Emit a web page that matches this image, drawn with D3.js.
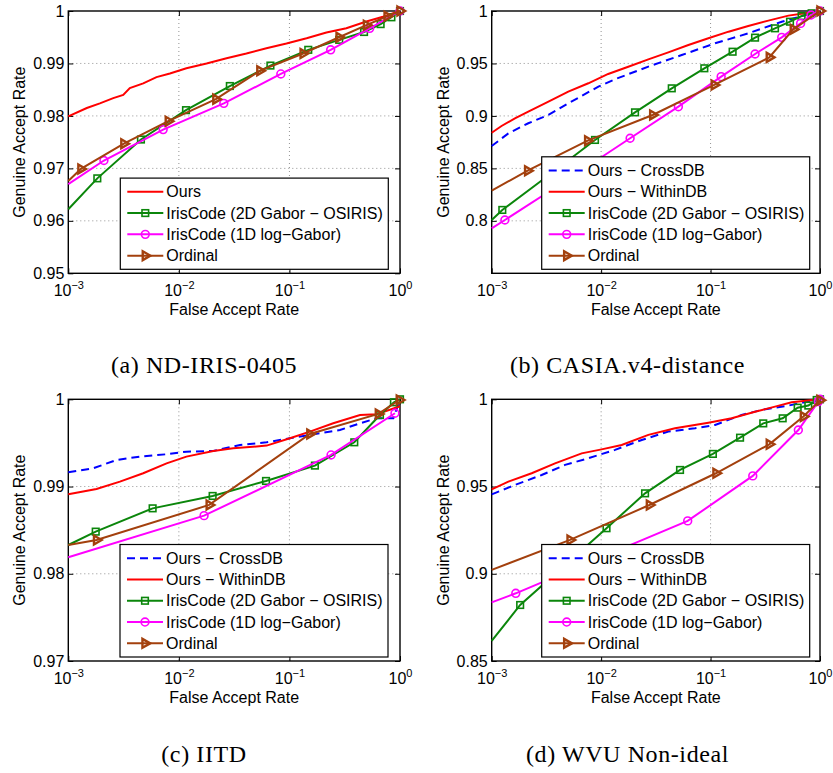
<!DOCTYPE html>
<html>
<head>
<meta charset="utf-8">
<script src="https://cdn.jsdelivr.net/npm/d3@7"></script>
<style>
    body { margin: 0; background: #fff; }
    svg text { font-family: "Liberation Sans", Arial, Helvetica, sans-serif; }
</style>
</head>
<body>
<div class="usable"></div>
<script>
// ---------- data: [FAR, GAR] ----------

// x axis (same for all four panels)
const xTicks = [1e-3, 1e-2, 1e-1, 1];
const xTickExp = ["\u22123", "\u22122", "\u22121", "0"];

// (a) ND-IRIS-0405
const ndOurs = [[1e-3, .9799], [1.47e-3, .9815], [1.93e-3, .9824], [2.55e-3, .9834], [3.14e-3, .984],
    [3.6e-3, .9853], [4.76e-3, .9862], [6.28e-3, .9874], [8.3e-3, .9881], [1.17e-2, .9891], [1.78e-2, .99],
    [2.7e-2, .991], [4.08e-2, .9919], [6.19e-2, .9929], [9.4e-2, .9938], [.143, .9948], [.216, .9959],
    [.327, .9967], [.497, .998], [.701, .9989], [1, 1]];
const ndGabor2D = [[1e-3, .9622], [1.83e-3, .9681], [4.54e-3, .9755], [1.16e-2, .9811], [2.89e-2, .9857],
    [6.73e-2, .9896], [.148, .9926], [.282, .9945], [.473, .996], [.668, .9975], [.836, .9988], [1, 1]];
const ndLogGabor = [[1e-3, .967], [2.1e-3, .9715], [7.21e-3, .9774], [2.55e-2, .9824], [8.36e-2, .988],
    [.236, .9926], [.532, .9967], [1, 1]];
const ndOrdinal = [[1e-3, .9676], [1.3e-3, .9699], [3.18e-3, .9747], [8.02e-3, .979], [2.16e-2, .9832],
    [5.4e-2, .9886], [.133, .9919], [.281, .995], [.497, .9973], [.764, .999], [1, 1]];

// (b) CASIA.v4-distance
const casiaCross = [[1e-3, .8713], [1.42e-3, .8834], [2.16e-3, .893], [3.3e-3, .9009], [5.01e-3, .912],
    [9.44e-3, .9279], [1.34e-2, .935], [2.7e-2, .947], [5.45e-2, .958], [.11, .9692], [.221, .9787],
    [.447, .9898], [1, 1]];
const casiaWithin = [[1e-3, .884], [1.23e-3, .8904], [1.63e-3, .8977], [2.16e-3, .9041], [3.3e-3, .9136],
    [5.01e-3, .9231], [7.64e-3, .9311], [1.16e-2, .94], [1.77e-2, .9469], [2.7e-2, .9539], [4.11e-2, .9606],
    [6.27e-2, .9676], [9.55e-2, .974], [.146, .9803], [.221, .9857], [.337, .9908], [.514, .9956],
    [.729, .9978], [1, 1]];
const casiaGabor2D = [[1e-3, .8008], [1.25e-3, .8104], [3.18e-3, .842], [8.79e-3, .8771], [2.04e-2, .9034],
    [4.42e-2, .9263], [8.77e-2, .9454], [.159, .9612], [.255, .9746], [.388, .9835], [.532, .9898],
    [.679, .9952], [.839, .9978], [1, 1]];
const casiaLogGabor = [[1e-3, .7929], [1.32e-3, .8008], [4.95e-3, .8394], [1.84e-2, .8787], [5.08e-2, .9088],
    [.125, .9374], [.255, .959], [.447, .9749], [.665, .9882], [.828, .9962], [1, 1]];
const casiaOrdinal = [[1e-3, .8288], [2.13e-3, .8478], [7.53e-3, .8764], [2.96e-2, .9009], [.108, .9295],
    [.344, .9558], [.57, .9825], [1, 1]];

// (c) IITD
const iitdCross = [[1e-3, .99163], [1.68e-3, .99209], [2.74e-3, .99305], [4.45e-3, .99343], [7.74e-3, .9937],
    [1.17e-2, .994], [2.05e-2, .99408], [3.57e-2, .99477], [6.22e-2, .99507], [.101, .99553], [.166, .99599],
    [.286, .99648], [.435, .99725], [.615, .99782], [.871, .99782], [1, 1]];
const iitdWithin = [[1e-3, .98911], [1.8e-3, .98972], [2.93e-3, .99056], [4.76e-3, .99152], [7.74e-3, .99266],
    [1.17e-2, .99343], [2.05e-2, .99408], [3.1e-2, .99438], [6.22e-2, .99469], [.101, .99553], [.153, .99629],
    [.249, .99725], [.435, .9982], [.615, .99828], [1, .9992]];
const iitdGabor2D = [[1e-3, .9833], [1.77e-3, .98483], [5.79e-3, .9875], [2.02e-2, .98892], [6.14e-2, .99064],
    [.17, .9924], [.386, .99507], [.659, .9982], [.881, .99966], [1, 1]];
const iitdLogGabor = [[1e-3, .98189], [1.69e-2, .98666], [.238, .99362], [.9, .9984]];
const iitdOrdinal = [[1e-3, .9833], [1.8e-3, .98387], [1.88e-2, .98789], [.153, .99603], [.637, .99832],
    [.986, .99992]];

// (d) WVU Non-ideal
const wvuCross = [[1e-3, .9455], [1.63e-3, .9509], [2.86e-3, .9566], [4.68e-3, .9624], [7.64e-3, .9662],
    [1.34e-2, .971], [2.35e-2, .9767], [4.11e-2, .9815], [7.21e-2, .9834], [.11, .9853], [.192, .991],
    [.293, .9939], [.514, .9964], [1, 1]];
const wvuWithin = [[1e-3, .9484], [1.42e-3, .9528], [2.32e-3, .9576], [3.79e-3, .9633], [6.64e-3, .969],
    [1.01e-2, .9713], [1.54e-2, .9738], [2.7e-2, .9796], [4.73e-2, .9834], [9.55e-2, .9866], [.156, .9891],
    [.255, .9929], [.388, .9958], [.551, .9983], [1, 1]];
const wvuGabor2D = [[1e-3, .8615], [1.82e-3, .8821], [5.01e-3, .9066], [1.12e-2, .9261], [2.52e-2, .9461],
    [5.26e-2, .9595], [.105, .9687], [.186, .978], [.303, .9862], [.456, .9891], [.625, .9952],
    [.782, .9964], [.933, .9996], [1, 1]];
const wvuLogGabor = [[1e-3, .8836], [1.66e-3, .8888], [1.01e-2, .9095], [6.18e-2, .9303], [.243, .9561],
    [.634, .9824], [.966, .9987], [1, 1]];
const wvuOrdinal = [[1e-3, .9022], [5.2e-3, .9194], [2.76e-2, .9394], [.112, .9576], [.344, .9742],
    [.705, .9901], [1, .9995]];

// ---------- styles ----------
const styles = {
    cross:  { color: "#0000ff", dash: "8,5", marker: null },
    within: { color: "#ff0000", dash: null, marker: null },
    gabor:  { color: "#0b860b", dash: null, marker: "square" },
    log:    { color: "#ff00ff", dash: null, marker: "circle" },
    ord:    { color: "#a3400d", dash: null, marker: "triangle" }
};

const panels = [
    { left: 68.3, right: 400, top: 11, bottom: 273.3, yDomain: [.95, 1],
      yTicks: [.95, .96, .97, .98, .99, 1], yLabels: ["0.95", "0.96", "0.97", "0.98", "0.99", "1"],
      caption: "(a) ND-IRIS-0405", capX: 204, capY: 373.4, legendDx: 52,
      series: [
          { name: "Ours", style: "within", data: ndOurs },
          { name: "IrisCode (2D Gabor \u2212 OSIRIS)", style: "gabor", data: ndGabor2D },
          { name: "IrisCode (1D log\u2212Gabor)", style: "log", data: ndLogGabor },
          { name: "Ordinal", style: "ord", data: ndOrdinal }] },
    { left: 491.7, right: 820, top: 11, bottom: 273.3, yDomain: [.75, 1],
      yTicks: [.8, .85, .9, .95, 1], yLabels: ["0.8", "0.85", "0.9", "0.95", "1"],
      caption: "(b) CASIA.v4-distance", capX: 627.5, capY: 373.4, legendDx: 50,
      series: [
          { name: "Ours \u2212 CrossDB", style: "cross", data: casiaCross },
          { name: "Ours \u2212 WithinDB", style: "within", data: casiaWithin },
          { name: "IrisCode (2D Gabor \u2212 OSIRIS)", style: "gabor", data: casiaGabor2D },
          { name: "IrisCode (1D log\u2212Gabor)", style: "log", data: casiaLogGabor },
          { name: "Ordinal", style: "ord", data: casiaOrdinal }] },
    { left: 68.3, right: 400, top: 399.3, bottom: 661, yDomain: [.97, 1],
      yTicks: [.97, .98, .99, 1], yLabels: ["0.97", "0.98", "0.99", "1"],
      caption: "(c) IITD", capX: 204, capY: 761.7, legendDx: 51.7,
      series: [
          { name: "Ours \u2212 CrossDB", style: "cross", data: iitdCross },
          { name: "Ours \u2212 WithinDB", style: "within", data: iitdWithin },
          { name: "IrisCode (2D Gabor \u2212 OSIRIS)", style: "gabor", data: iitdGabor2D },
          { name: "IrisCode (1D log\u2212Gabor)", style: "log", data: iitdLogGabor },
          { name: "Ordinal", style: "ord", data: iitdOrdinal }] },
    { left: 491.7, right: 820, top: 399.3, bottom: 661, yDomain: [.85, 1],
      yTicks: [.85, .9, .95, 1], yLabels: ["0.85", "0.9", "0.95", "1"],
      caption: "(d) WVU Non-ideal", capX: 627.5, capY: 761.7, legendDx: 50,
      series: [
          { name: "Ours \u2212 CrossDB", style: "cross", data: wvuCross },
          { name: "Ours \u2212 WithinDB", style: "within", data: wvuWithin },
          { name: "IrisCode (2D Gabor \u2212 OSIRIS)", style: "gabor", data: wvuGabor2D },
          { name: "IrisCode (1D log\u2212Gabor)", style: "log", data: wvuLogGabor },
          { name: "Ordinal", style: "ord", data: wvuOrdinal }] }
];

let svg = d3.select(".usable").append("svg")
    .attr("width", 833)
    .attr("height", 773);

function drawMarker(g, type, cx, cy, color) {
    let m;
    if (type === "square") {
        m = g.append("rect").attr("x", cx - 3.3).attr("y", cy - 3.3).attr("width", 6.6).attr("height", 6.6);
    } else if (type === "circle") {
        m = g.append("circle").attr("cx", cx).attr("cy", cy).attr("r", 3.9);
    } else if (type === "triangle") {
        // right-pointing triangle, drawn thick so it reads almost solid like the original
        m = g.append("path")
            .attr("d", d3.symbol(d3.symbolTriangle, 34)())
            .attr("transform", `translate(${cx},${cy}) rotate(90)`);
    }
    if (m) m.attr("fill", "none").attr("stroke", color)
        .attr("stroke-width", type === "triangle" ? 2.4 : 1.6)
        .attr("stroke-linejoin", "miter");
}

function fixAxis(ax) {
    ax.select(".domain").remove();
    ax.attr("font-family", null).attr("font-size", 16);
    ax.selectAll(".tick line").attr("stroke", "#000").attr("stroke-width", 1);
}

function drawPanel(p) {
    const x = d3.scaleLog().domain([1e-3, 1]).range([p.left, p.right]);
    const y = d3.scaleLinear().domain(p.yDomain).range([p.bottom, p.top]);
    const g = svg.append("g");

    // dotted grid
    g.selectAll(".gx").data(xTicks.slice(1, -1)).join("line")
        .attr("x1", d => x(d)).attr("x2", d => x(d))
        .attr("y1", p.top).attr("y2", p.bottom)
        .attr("stroke", "#777").attr("stroke-width", 0.8).attr("stroke-dasharray", "1,3");
    g.selectAll(".gy").data(p.yTicks.filter(v => v > p.yDomain[0] && v < p.yDomain[1])).join("line")
        .attr("x1", p.left).attr("x2", p.right)
        .attr("y1", d => y(d)).attr("y2", d => y(d))
        .attr("stroke", "#777").attr("stroke-width", 0.8).attr("stroke-dasharray", "1,3");

    // axes, ticks pointing inwards
    const bx = g.append("g").attr("transform", `translate(0,${p.bottom})`)
        .call(d3.axisBottom(x).tickValues(xTicks).tickSizeInner(-5).tickSizeOuter(0).tickPadding(11.6));
    fixAxis(bx);
    bx.selectAll(".tick text").each(function (d, i) {
        const t = d3.select(this).text("");
        t.append("tspan").text("10");
        t.append("tspan").attr("dy", -7).attr("font-size", 11).text(xTickExp[i]);
    });
    const tx = g.append("g").attr("transform", `translate(0,${p.top})`)
        .call(d3.axisTop(x).tickValues(xTicks).tickSizeInner(-5).tickSizeOuter(0).tickFormat(""));
    fixAxis(tx);
    const ly = g.append("g").attr("transform", `translate(${p.left},0)`)
        .call(d3.axisLeft(y).tickValues(p.yTicks).tickSizeInner(-5).tickSizeOuter(0).tickPadding(4)
            .tickFormat((d, i) => p.yLabels[i]));
    fixAxis(ly);
    const ry = g.append("g").attr("transform", `translate(${p.right},0)`)
        .call(d3.axisRight(y).tickValues(p.yTicks).tickSizeInner(-5).tickSizeOuter(0).tickFormat(""));
    fixAxis(ry);

    g.append("rect")
        .attr("x", p.left).attr("y", p.top)
        .attr("width", p.right - p.left).attr("height", p.bottom - p.top)
        .attr("fill", "none").attr("stroke", "#000").attr("stroke-width", 1.4);

    // curves
    const line = d3.line().x(d => x(d[0])).y(d => y(d[1]));
    p.series.forEach(s => {
        const st = styles[s.style];
        g.append("path").datum(s.data)
            .attr("d", line)
            .attr("fill", "none")
            .attr("stroke", st.color)
            .attr("stroke-width", 2)
            .attr("stroke-dasharray", st.dash);
        if (st.marker) {
            s.data.slice(1).forEach(d => drawMarker(g, st.marker, x(d[0]), y(d[1]), st.color));
        }
    });

    // axis labels
    g.append("text")
        .attr("x", (p.left + p.right) / 2).attr("y", p.bottom + 42)
        .attr("text-anchor", "middle").attr("font-size", 16)
        .text("False Accept Rate");
    g.append("text")
        .attr("transform", `translate(${p.left - 43},${(p.top + p.bottom) / 2}) rotate(-90)`)
        .attr("text-anchor", "middle").attr("font-size", 16)
        .text("Genuine Accept Rate");

    // legend
    const rowH = 21.3;
    const lh = p.series.length * rowH + 6;
    const lg = g.append("g").attr("transform", `translate(${p.left + p.legendDx},${p.bottom - 4 - lh})`);
    lg.append("rect").attr("width", 268).attr("height", lh)
        .attr("fill", "#fff").attr("stroke", "#000").attr("stroke-width", 1.2);
    p.series.forEach((s, i) => {
        const st = styles[s.style];
        const cy = 3 + rowH * (i + 0.5);
        lg.append("line").attr("x1", 7).attr("x2", 43).attr("y1", cy).attr("y2", cy)
            .attr("stroke", st.color).attr("stroke-width", 2).attr("stroke-dasharray", st.dash);
        if (st.marker) drawMarker(lg, st.marker, 25, cy, st.color);
        lg.append("text").attr("x", 46).attr("y", cy + 5.6).attr("font-size", 16).text(s.name);
    });

    // caption
    svg.append("text")
        .attr("x", p.capX).attr("y", p.capY)
        .attr("text-anchor", "middle")
        .style("font-family", "'Liberation Serif', 'Times New Roman', serif")
        .style("font-size", "24px")
        .style("letter-spacing", "0.6px")
        .text(p.caption);
}

panels.forEach(drawPanel);
</script>
</body>
</html>
